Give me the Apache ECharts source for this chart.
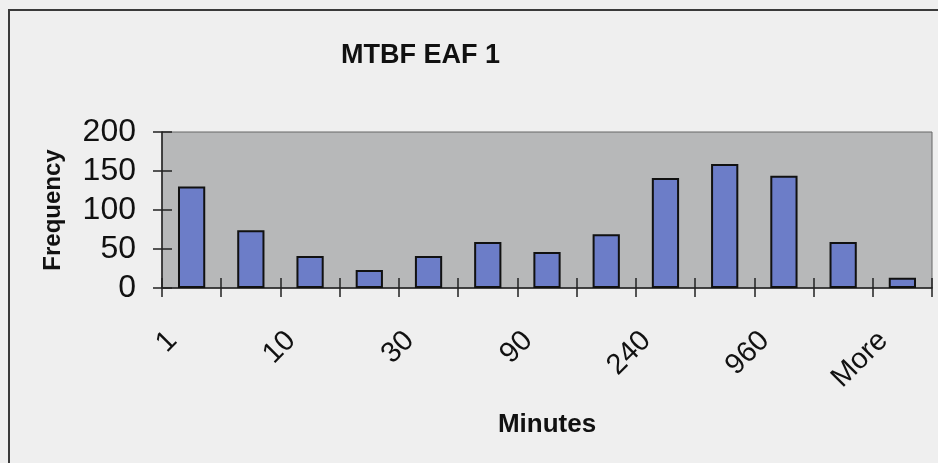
<!DOCTYPE html>
<html>
<head>
<meta charset="utf-8">
<script src="https://cdn.jsdelivr.net/npm/echarts@6/dist/echarts.min.js"></script>
<style>
html,body{margin:0;padding:0;background:#efefef;}
#c{width:938px;height:463px;}
</style>
</head>
<body>
<div id="c"></div>
<script>
var categories = ['1', '5', '10', '20', '30', '60', '90', '120', '240', '480', '960', '1440', 'More'];
var frequency = [130, 74, 41, 23, 41, 59, 46, 69, 141, 159, 144, 59, 13];
var yTicks = {min: 0, max: 200, interval: 50};

var FONT = '"Liberation Sans", Arial, sans-serif';
var chart = echarts.init(document.getElementById('c'));
chart.setOption({
  backgroundColor: '#efefef',
  animation: false,
  title: {
    text: 'MTBF EAF 1',
    left: 336, top: 37,
    textStyle: {fontFamily: FONT, fontSize: 27, fontWeight: 'bold', color: '#111'}
  },
  graphic: [{
    type: 'polyline',
    shape: {points: [[9, 463], [9, 10], [938, 10]]},
    style: {stroke: '#3a3a3a', lineWidth: 2, fill: null},
    silent: true
  }],
  grid: {
    left: 162, top: 132, right: 6, bottom: 175,
    show: true, backgroundColor: '#b7b8b9', borderColor: '#666', borderWidth: 1
  },
  xAxis: [{
    type: 'category', data: categories, position: 'bottom',
    name: 'Minutes', nameLocation: 'middle', nameGap: 124,
    nameTextStyle: {fontFamily: FONT, fontSize: 26, fontWeight: 'bold', color: '#111'},
    axisLine: {show: true, lineStyle: {color: '#222', width: 1.5}},
    axisTick: {show: true, interval: 0, length: 9, lineStyle: {color: '#222', width: 1.5}},
    axisLabel: {interval: 1, rotate: 45, margin: 29, padding: [0, 27, 0, 0],
      fontFamily: FONT, fontSize: 29, color: '#111'},
    splitLine: {show: false}
  }, {
    type: 'category', data: categories, position: 'bottom',
    axisLine: {show: false},
    axisTick: {show: true, inside: true, interval: 0, length: 10, lineStyle: {color: '#222', width: 1.5}},
    axisLabel: {show: false},
    splitLine: {show: false}
  }],
  yAxis: [{
    type: 'value', min: yTicks.min, max: yTicks.max, interval: yTicks.interval, position: 'left',
    name: 'Frequency', nameLocation: 'middle', nameGap: 97, nameRotate: 90,
    nameTextStyle: {fontFamily: FONT, fontSize: 24, fontWeight: 'bold', color: '#111'},
    axisLine: {show: true, lineStyle: {color: '#222', width: 1.5}},
    axisTick: {show: true, length: 9, lineStyle: {color: '#222', width: 1.5}},
    axisLabel: {margin: 26, fontFamily: FONT, fontSize: 32, color: '#111'},
    splitLine: {show: false}
  }, {
    type: 'value', min: yTicks.min, max: yTicks.max, interval: yTicks.interval, position: 'left',
    axisLine: {show: false},
    axisTick: {show: true, inside: true, length: 10, lineStyle: {color: '#222', width: 1.5}},
    axisLabel: {show: false},
    splitLine: {show: false}
  }],
  series: [{
    type: 'bar', data: frequency, xAxisIndex: 0, yAxisIndex: 0,
    barWidth: '46%',
    itemStyle: {color: '#6c7dc8', borderColor: '#111', borderWidth: 2}
  }]
});
</script>
</body>
</html>
